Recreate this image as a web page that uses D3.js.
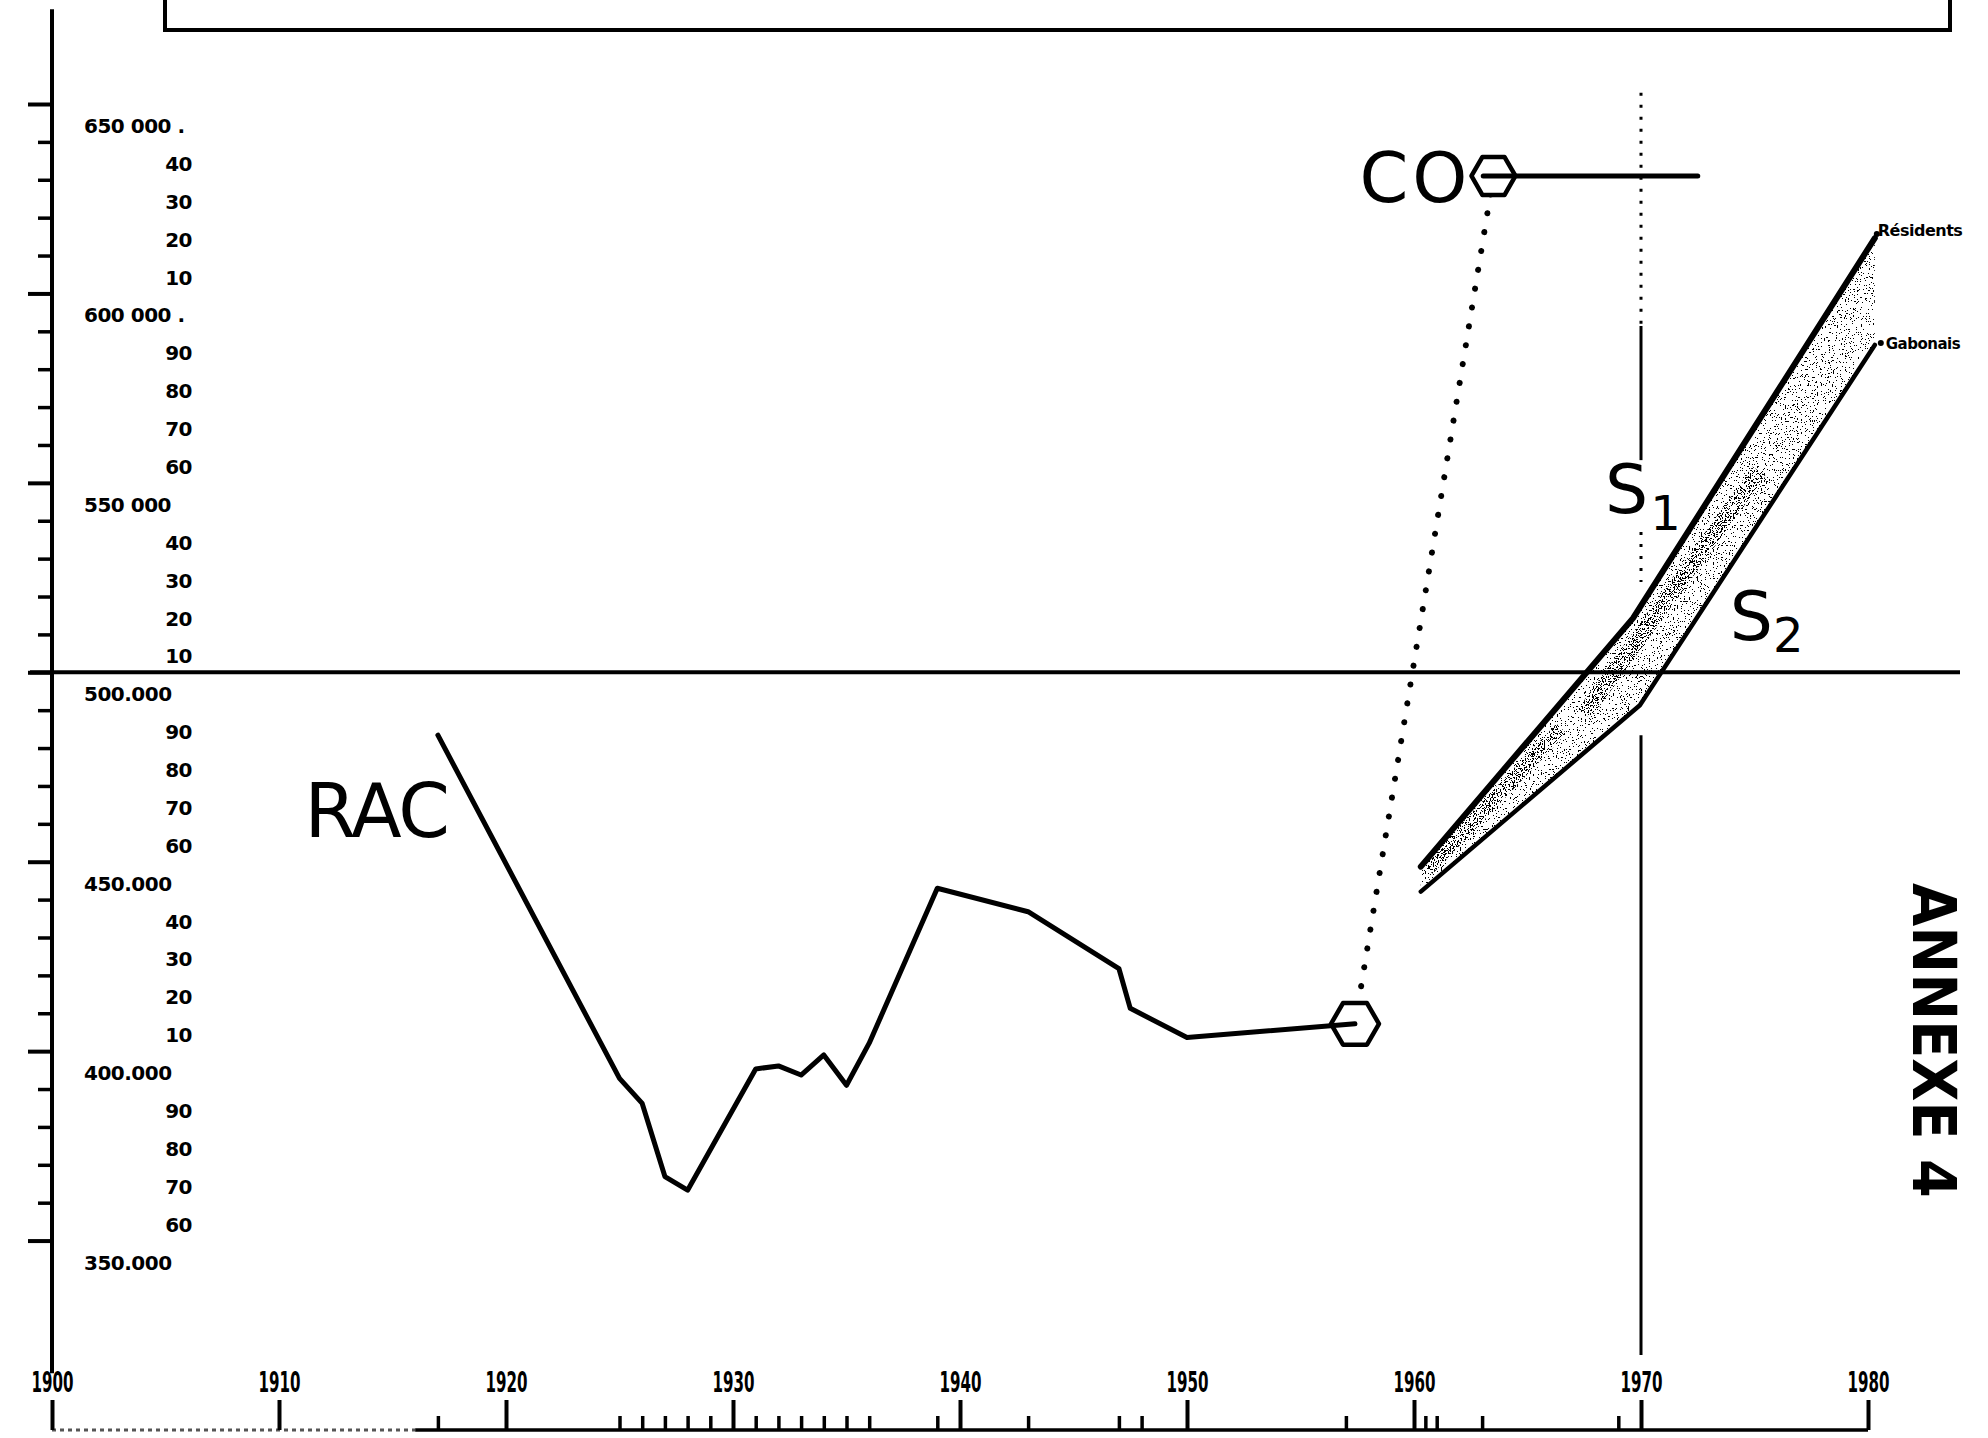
<!DOCTYPE html>
<html>
<head>
<meta charset="utf-8">
<script src="https://cdn.jsdelivr.net/npm/d3@7"></script>
<style>
  html, body { margin: 0; padding: 0; background: #fff; }
  svg { display: block; }
</style>
</head>
<body>
<div id="chart"></div>
<script>
// values (population, years)
const racYears  = [1917, 1925, 1926, 1927, 1928, 1931, 1932, 1933, 1934, 1935, 1936, 1939, 1943, 1947, 1947.5, 1950, 1957.4];
const racValues = [483400, 392800, 386200, 366900, 363300, 395300, 396100, 393700, 399000, 391000, 402100, 443000, 436800, 421800, 411300, 403600, 407200];

const coYears  = [1963.5, 1972.5];
const coValues = [631000, 631000];

const residentsYears  = [1960.3, 1969.65, 1980.3];
const residentsValues = [448700, 514300, 614600];
const gabonaisYears   = [1960.3, 1969.95, 1980.3];
const gabonaisValues  = [442100, 491300, 586400];

const decadeTicks  = [1900, 1910, 1920, 1930, 1940, 1950, 1960, 1970, 1980];
const decadeLabels = ["1900", "1910", "1920", "1930", "1940", "1950", "1960", "1970", "1980"];
const yearTicks    = [1917, 1925, 1926, 1927, 1928, 1929, 1931, 1932, 1933, 1934, 1935, 1936, 1939,
                      1943, 1947, 1948, 1957, 1960.5, 1961, 1963, 1969];

const yMajorValues = [650000, 600000, 550000, 500000, 450000, 400000, 350000];
const yMajorLabels = ["650 000 .", "600 000 .", "550 000", "500.000", "450.000", "400.000", "350.000"];
const yMinorValues = [640000, 630000, 620000, 610000, 590000, 580000, 570000, 560000,
                      540000, 530000, 520000, 510000, 490000, 480000, 470000, 460000,
                      440000, 430000, 420000, 410000, 390000, 380000, 370000, 360000];
const yMinorLabels = ["40", "30", "20", "10", "90", "80", "70", "60",
                      "40", "30", "20", "10", "90", "80", "70", "60",
                      "40", "30", "20", "10", "90", "80", "70", "60"];

// 1970 reference line pieces (population range)
const guideDotted = [[653000, 591400], [537000, 523800]];
const guideSolid  = [[591400, 556000], [483400, 319800]];

const width = 1988;
const height = 1438;
const font = "'DejaVu Sans', sans-serif";

const x = d3.scaleLinear([1900, 1980], [52, 1868]);
const y = d3.scaleLinear([300000, 650000], [1430, 104]);

const svg = d3.select("#chart").append("svg")
    .attr("width", width)
    .attr("height", height)
    .attr("viewBox", [0, 0, width, height]);

svg.append("rect").attr("width", width).attr("height", height).attr("fill", "#fff");

// stipple texture for the band
const defs = svg.append("defs");
function grain(id, seed, bias) {
  const f = defs.append("filter").attr("id", id);
  f.append("feTurbulence").attr("type", "fractalNoise").attr("baseFrequency", 0.75)
    .attr("numOctaves", 2).attr("seed", seed).attr("result", "noise");
  f.append("feColorMatrix").attr("in", "noise").attr("type", "matrix")
    .attr("values", `0 0 0 0 0  0 0 0 0 0  0 0 0 0 0  -5 0 0 0 ${bias}`).attr("result", "a");
  const ct = f.append("feComponentTransfer").attr("in", "a").attr("result", "d");
  ct.append("feFuncA").attr("type", "discrete").attr("tableValues", "0 1");
  f.append("feComposite").attr("in", "d").attr("in2", "SourceGraphic").attr("operator", "in");
}
grain("grain", 4, 2.2);
grain("grainDense", 9, 2.6);

// top frame (cut off by the page)
svg.append("path")
    .attr("d", d3.line()([[165, -5], [165, 30], [1950, 30], [1950, -5]]))
    .attr("fill", "none").attr("stroke", "#000").attr("stroke-width", 4);

// left axis
svg.append("line")
    .attr("x1", x(1900)).attr("x2", x(1900))
    .attr("y1", y(675000)).attr("y2", y(315000))
    .attr("stroke", "#000").attr("stroke-width", 4);

svg.append("g")
    .attr("transform", `translate(${x(1900)},0)`)
    .call(d3.axisLeft(y).tickValues(yMajorValues).tickSize(24).tickFormat(""))
    .call(g => g.select(".domain").remove())
    .call(g => g.selectAll(".tick line").attr("stroke-width", 4));

svg.append("g")
    .attr("transform", `translate(${x(1900)},0)`)
    .call(d3.axisLeft(y).tickValues(yMinorValues).tickSize(14).tickFormat(""))
    .call(g => g.select(".domain").remove())
    .call(g => g.selectAll(".tick line").attr("stroke-width", 3.5));

svg.append("g").selectAll("text")
  .data(yMajorValues)
  .join("text")
    .attr("x", 84)
    .attr("y", d => y(d) + 29)
    .attr("font-family", font).attr("font-weight", "bold").attr("font-size", 20)
    .attr("letter-spacing", -0.5)
    .text((d, i) => yMajorLabels[i]);

svg.append("g").selectAll("text")
  .data(yMinorValues)
  .join("text")
    .attr("x", 192)
    .attr("y", d => y(d) + 29)
    .attr("text-anchor", "end")
    .attr("font-family", font).attr("font-weight", "bold").attr("font-size", 20)
    .attr("letter-spacing", -0.5)
    .text((d, i) => yMinorLabels[i]);

// 500 000 line
svg.append("line")
    .attr("x1", 30).attr("x2", 1960)
    .attr("y1", y(500000)).attr("y2", y(500000))
    .attr("stroke", "#000").attr("stroke-width", 4);

// bottom axis
svg.append("line")
    .attr("x1", x(1900)).attr("x2", x(1916))
    .attr("y1", y(300000)).attr("y2", y(300000))
    .attr("stroke", "#555").attr("stroke-width", 3).attr("stroke-dasharray", "4,4");
svg.append("line")
    .attr("x1", x(1916)).attr("x2", x(1980))
    .attr("y1", y(300000)).attr("y2", y(300000))
    .attr("stroke", "#000").attr("stroke-width", 3.5);

svg.append("g")
    .attr("transform", `translate(0,${y(300000)})`)
    .call(d3.axisTop(x).tickValues(decadeTicks).tickSize(30).tickPadding(8)
      .tickFormat((d, i) => decadeLabels[i]))
    .call(g => g.select(".domain").remove())
    .call(g => g.selectAll(".tick line").attr("stroke-width", 4))
    .call(g => g.selectAll(".tick text")
      .attr("fill", "#000")
      .attr("font-family", font).attr("font-weight", "bold").attr("font-size", 28)
      .attr("textLength", 42).attr("lengthAdjust", "spacingAndGlyphs"));

svg.append("g")
    .attr("transform", `translate(0,${y(300000)})`)
    .call(d3.axisTop(x).tickValues(yearTicks).tickSize(14).tickFormat(""))
    .call(g => g.select(".domain").remove())
    .call(g => g.selectAll(".tick line").attr("stroke-width", 3.5));

// 1970 guide
svg.append("g").selectAll("line")
  .data(guideDotted)
  .join("line")
    .attr("x1", x(1970)).attr("x2", x(1970))
    .attr("y1", d => y(d[0])).attr("y2", d => y(d[1]))
    .attr("stroke", "#000").attr("stroke-width", 3)
    .attr("stroke-dasharray", "3,9");
svg.append("g").selectAll("line")
  .data(guideSolid)
  .join("line")
    .attr("x1", x(1970)).attr("x2", x(1970))
    .attr("y1", d => y(d[0])).attr("y2", d => y(d[1]))
    .attr("stroke", "#000").attr("stroke-width", 3);

// S1 / S2 band
const residents = residentsYears.map((d, i) => [d, residentsValues[i]]);
const gabonais  = gabonaisYears.map((d, i) => [d, gabonaisValues[i]]);
const line = d3.line().x(d => x(d[0])).y(d => y(d[1]));

svg.append("path")
    .attr("d", line(residents.concat(gabonais.slice().reverse())) + "Z")
    .attr("fill", "#222")
    .attr("filter", "url(#grain)");

const resInterp = d3.scaleLinear(residentsYears, residentsValues);
const gabInterp = d3.scaleLinear(gabonaisYears, gabonaisValues);
function bandMid(years, w) {
  return years.map(t => [t, resInterp(t) * w + gabInterp(t) * (1 - w)]);
}
svg.append("path")
    .attr("d", line(bandMid([1960.6, 1966.5], 0.62)))
    .attr("fill", "none").attr("stroke", "#000").attr("stroke-width", 14)
    .attr("filter", "url(#grainDense)");
svg.append("path")
    .attr("d", line(bandMid([1967.5, 1975.2], 0.5)))
    .attr("fill", "none").attr("stroke", "#000").attr("stroke-width", 16)
    .attr("filter", "url(#grainDense)");

svg.append("path")
    .attr("d", line(residents))
    .attr("fill", "none").attr("stroke", "#000").attr("stroke-width", 6)
    .attr("stroke-linejoin", "round").attr("stroke-linecap", "round");
svg.append("path")
    .attr("d", line(gabonais))
    .attr("fill", "none").attr("stroke", "#000").attr("stroke-width", 4.5)
    .attr("stroke-linejoin", "round").attr("stroke-linecap", "round");

const resEnd = residents[residents.length - 1];
const gabEnd = gabonais[gabonais.length - 1];
svg.append("circle").attr("cx", x(resEnd[0]) + 2).attr("cy", y(resEnd[1]) - 4).attr("r", 3);
svg.append("text")
    .attr("x", x(resEnd[0]) + 3).attr("y", y(resEnd[1]) - 2)
    .attr("font-family", font).attr("font-weight", "bold").attr("font-size", 16)
    .attr("letter-spacing", -0.5)
    .text("Résidents");
svg.append("circle").attr("cx", x(gabEnd[0]) + 6).attr("cy", y(gabEnd[1]) - 2).attr("r", 3);
svg.append("text")
    .attr("x", x(gabEnd[0]) + 11).attr("y", y(gabEnd[1]) + 4)
    .attr("font-family", font).attr("font-weight", "bold").attr("font-size", 15)
    .attr("letter-spacing", -0.5)
    .text("Gabonais");

// S1, S2 labels
const sLab = svg.append("g").attr("font-family", font).attr("font-size", 68);
sLab.append("text")
    .attr("x", x(1969.65) - 28).attr("y", y(514300) - 105)
    .text("S")
  .append("tspan").attr("font-size", 48).attr("dy", 17).attr("dx", 2).text("1");
sLab.append("text")
    .attr("x", x(1969.95) + 90).attr("y", y(491300) - 65)
    .text("S")
  .append("tspan").attr("font-size", 48).attr("dy", 12).attr("dx", 0).text("2");

// dotted link RAC -> CO
const racEnd = [racYears[racYears.length - 1], racValues[racValues.length - 1]];
const coStart = [coYears[0], coValues[0]];
svg.append("path")
    .attr("d", line([racEnd, coStart]))
    .attr("fill", "none").attr("stroke", "#000").attr("stroke-width", 6)
    .attr("stroke-linecap", "round").attr("stroke-dasharray", "0.1,19");

function hexagon(cx, cy, r) {
  const pts = d3.range(6).map(k => {
    const a = Math.PI / 3 * k;
    return [cx + r * Math.cos(a), cy + r * Math.sin(a)];
  });
  return d3.line()(pts) + "Z";
}

svg.append("path")
    .attr("d", hexagon(x(racEnd[0]), y(racEnd[1]), 24))
    .attr("fill", "#fff").attr("stroke", "#000").attr("stroke-width", 4.5)
    .attr("stroke-linejoin", "round");
svg.append("path")
    .attr("d", hexagon(x(coStart[0]), y(coStart[1]), 22))
    .attr("fill", "#fff").attr("stroke", "#000").attr("stroke-width", 4.5)
    .attr("stroke-linejoin", "round");

// RAC line
const rac = racYears.map((d, i) => [d, racValues[i]]);
svg.append("path")
    .attr("d", line(rac))
    .attr("fill", "none").attr("stroke", "#000").attr("stroke-width", 5)
    .attr("stroke-linejoin", "round").attr("stroke-linecap", "round");

// CO line
const co = coYears.map((d, i) => [d, coValues[i]]);
svg.append("path")
    .attr("d", line([[coYears[0] - 0.45, coValues[0]]].concat(co.slice(1))))
    .attr("fill", "none").attr("stroke", "#000").attr("stroke-width", 5)
    .attr("stroke-linecap", "round");

// series names
svg.append("text")
    .attr("x", x(racYears[0]) + 10).attr("y", y(racValues[0]) + 102)
    .attr("text-anchor", "end")
    .attr("font-family", font).attr("font-size", 74).attr("letter-spacing", -2)
    .text("RAC");
svg.append("text")
    .attr("x", x(coYears[0]) - 22).attr("y", y(coValues[0]) + 26)
    .attr("text-anchor", "end")
    .attr("font-family", font).attr("font-size", 70).attr("letter-spacing", 4)
    .text("CO");

// annex marker
svg.append("text")
    .attr("transform", "translate(1913,883) rotate(90)")
    .attr("font-family", font).attr("font-weight", "bold").attr("font-size", 60)
    .attr("textLength", 315).attr("lengthAdjust", "spacingAndGlyphs")
    .text("ANNEXE 4");
</script>
</body>
</html>
